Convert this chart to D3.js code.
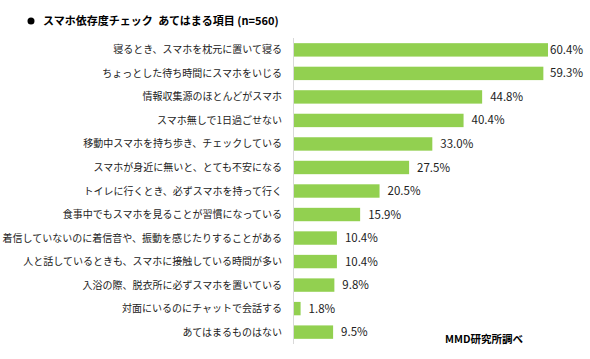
<!DOCTYPE html>
<html><head><meta charset="utf-8">
<script src="https://cdn.jsdelivr.net/npm/d3@7"></script>
<style>body{margin:0;background:#fff;} svg{display:block;}</style>
</head><body>
<svg id="chart" width="590" height="359"></svg>
<script>
const title = "スマホ依存度チェック\u2002あてはまる項目 (n=560)";
const source = "MMD研究所調べ";
const categories = [
  "寝るとき、スマホを枕元に置いて寝る",
  "ちょっとした待ち時間にスマホをいじる",
  "情報収集源のほとんどがスマホ",
  "スマホ無しで1日過ごせない",
  "移動中スマホを持ち歩き、チェックしている",
  "スマホが身近に無いと、とても不安になる",
  "トイレに行くとき、必ずスマホを持って行く",
  "食事中でもスマホを見ることが習慣になっている",
  "着信していないのに着信音や、振動を感じたりすることがある",
  "人と話しているときも、スマホに接触している時間が多い",
  "入浴の際、脱衣所に必ずスマホを置いている",
  "対面にいるのにチャットで会話する",
  "あてはまるものはない"
];
const values = [60.4, 59.3, 44.8, 40.4, 33.0, 27.5, 20.5, 15.9, 10.4, 10.4, 9.8, 1.8, 9.5];

const svg = d3.select("#chart");
const font = "'Noto Sans CJK JP', 'Noto Sans', sans-serif";
const mLeft = 293, mTop = 38, mBottom = 344, mRight = 583;

const x = d3.scaleLinear().domain([0, 60.4]).range([mLeft, 548]);
const y = d3.scaleBand().domain(categories).range([mTop, mBottom]).paddingInner(0.43).paddingOuter(0.22);

svg.append("circle").attr("cx", 31).attr("cy", 21).attr("r", 3.5).attr("fill", "#000");
svg.append("text").attr("x", 43).attr("y", 25).text(title)
  .attr("font-family", font).attr("font-size", 11).attr("font-weight", "bold").attr("fill", "#000");

svg.selectAll("rect.bar").data(values).enter().append("rect")
  .attr("class", "bar")
  .attr("x", x(0))
  .attr("y", (d, i) => y(categories[i]))
  .attr("width", d => x(d) - x(0))
  .attr("height", y.bandwidth())
  .attr("fill", "#92d050");

svg.append("line").attr("x1", mLeft + 0.5).attr("x2", mLeft + 0.5).attr("y1", mTop).attr("y2", mBottom)
  .attr("stroke", "#d9d9d9").attr("stroke-width", 1);

svg.selectAll("text.cat").data(categories).enter().append("text")
  .attr("class", "cat")
  .attr("x", mLeft - 11)
  .attr("y", d => y(d) + y.bandwidth() / 2)
  .attr("dy", "0.35em")
  .attr("text-anchor", "end")
  .attr("font-family", font).attr("font-size", 10).attr("fill", "#222")
  .text(d => d);

svg.selectAll("text.val").data(values).enter().append("text")
  .attr("class", "val")
  .attr("y", (d, i) => y(categories[i]) + y.bandwidth() / 2)
  .attr("dy", "0.35em")
  .attr("font-family", font).attr("font-size", 11.5).attr("fill", "#222")
  .text(d => d.toFixed(1) + "%")
  .attr("x", function(d) {
    const w = this.getComputedTextLength();
    return Math.min(x(d) + 8, mRight - w);
  });

svg.append("text").attr("x", 445).attr("y", 343).text(source)
  .attr("font-family", font).attr("font-size", 10.5).attr("font-weight", "bold").attr("fill", "#000");
</script>
</body></html>
